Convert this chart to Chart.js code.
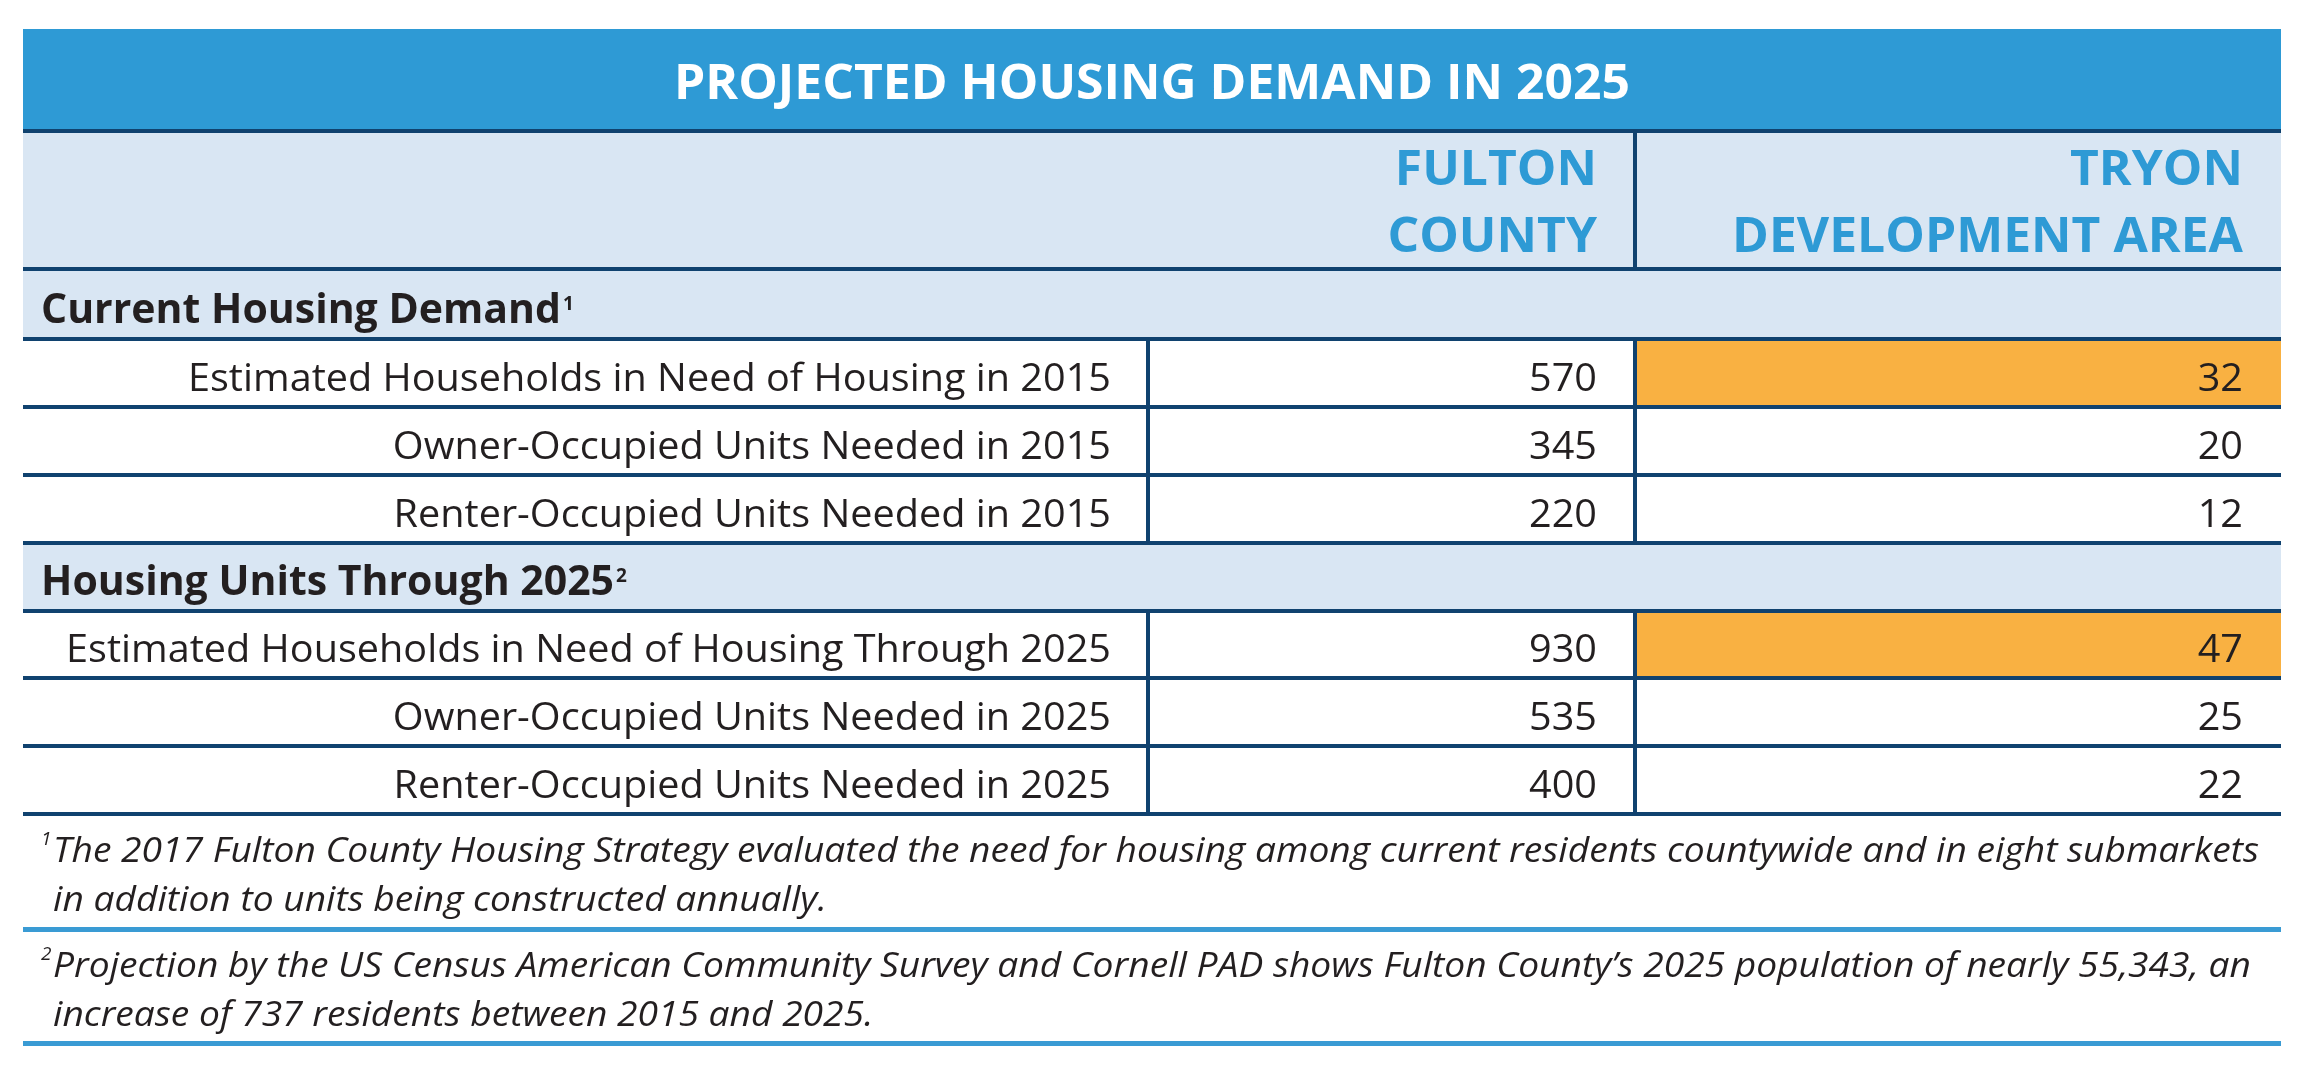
<!DOCTYPE html>
<html><head><meta charset="utf-8">
<script src="https://cdn.jsdelivr.net/npm/chart.js@4.4.1/dist/chart.umd.min.js"></script>
<style>html,body{margin:0;padding:0;background:#fff;overflow:hidden}#wrap{width:2310px;height:1074px;position:relative}canvas{display:block}</style>
</head><body><div id="wrap"><canvas id="c" width="2310" height="1074" style="width:2310px;height:1074px"></canvas></div>
<script>
// ---------- DATA ----------
const titleText = 'PROJECTED HOUSING DEMAND IN 2025';
const columnHeaders = [['FULTON', 'COUNTY'], ['TRYON', 'DEVELOPMENT AREA']];
const sectionTitles = ['Current Housing Demand', 'Housing Units Through 2025'];
const sectionNoteMarks = ['1', '2'];
const rowLabels = [
  'Estimated Households in Need of Housing in 2015',
  'Owner-Occupied Units Needed in 2015',
  'Renter-Occupied Units Needed in 2015',
  'Estimated Households in Need of Housing Through 2025',
  'Owner-Occupied Units Needed in 2025',
  'Renter-Occupied Units Needed in 2025'
];
const rowSection = [0, 0, 0, 1, 1, 1];
const fultonValues = [570, 345, 220, 930, 535, 400];
const tryonValues = [32, 20, 12, 47, 25, 22];
const highlightedRows = [0, 3];
const footnoteMarks = ['1', '2'];
const footnoteLines = [
  ['The 2017 Fulton County Housing Strategy evaluated the need for housing among current residents countywide and in eight submarkets',
   'in addition to units being constructed annually.'],
  ['Projection by the US Census American Community Survey and Cornell PAD shows Fulton County\u2019s 2025 population of nearly 55,343, an',
   'increase of 737 residents between 2015 and 2025.']
];

// ---------- LAYOUT / STYLE ----------
const COLS = [0, 0.4982, 0.7139, 1];          // column edges (fraction of table width)
const H = {title: 1.5, header: 2.04, section: [1.04, 1.0], row: 1, footnote: [1.7, 1.68]}; // band heights in row units
const C = {
  blue: '#2e9ad5', headBg: '#d9e6f3', dark: '#10426f', fnLine: '#3a9bd4',
  orange: '#f9b142', text: '#231f20', white: '#ffffff'
};
const FONT = '"Open Sans", "DejaVu Sans", sans-serif';

// build bands
const bands = [];
bands.push({kind: 'title', h: H.title});
bands.push({kind: 'header', h: H.header});
sectionTitles.forEach((t, s) => {
  bands.push({kind: 'section', idx: s, h: H.section[s]});
  rowLabels.forEach((l, i) => { if (rowSection[i] === s) bands.push({kind: 'row', idx: i, h: H.row}); });
});
footnoteLines.forEach((f, i) => bands.push({kind: 'footnote', idx: i, h: H.footnote[i]}));
let acc = 0;
bands.forEach(b => { b.top = acc; acc += b.h; b.bottom = acc; b.center = (b.top + b.bottom) / 2; });
const TOTAL = acc;
const BOUNDS = [0].concat(bands.map(b => b.bottom));
const boundStyle = BOUNDS.map((v, i) => {
  if (i === 0) return {color: 'rgba(0,0,0,0)', width: 0};
  const b = bands[i - 1];
  if (b.kind === 'footnote') return {color: C.fnLine, width: 5};
  return {color: C.dark, width: 4};
});

// cell bars (value columns), built from the data rows
const rowBands = bands.filter(b => b.kind === 'row');
const cellData = [], cellColors = [];
rowBands.forEach(b => {
  cellData.push({y: b.center, x: [COLS[1], COLS[2]]});
  cellColors.push(C.white);
  cellData.push({y: b.center, x: [COLS[2], COLS[3]]});
  cellColors.push(highlightedRows.includes(b.idx) ? C.orange : C.white);
});

function ratioFor(ctx, font, ref, target) {
  ctx.font = font;
  return target / ctx.measureText(ref).width;
}
function fit(ctx, text, x, y, ratio) {
  const w = ctx.measureText(text).width;
  const align = ctx.textAlign;
  ctx.save();
  ctx.translate(x, y);
  ctx.scale(ratio, 1);
  ctx.textAlign = align;
  ctx.fillText(text, 0, 0);
  ctx.restore();
  return w * ratio;
}

const tablePlugin = {
  id: 'tablePlugin',
  beforeDraw(chart) {
    const {ctx, scales: {x, y}} = chart;
    ctx.save();
    ctx.fillStyle = '#fff';
    ctx.fillRect(0, 0, chart.width, chart.height);
    const L = x.getPixelForValue(0), R = x.getPixelForValue(1);
    bands.forEach(b => {
      let col = null;
      if (b.kind === 'title') col = C.blue;
      else if (b.kind === 'header' || b.kind === 'section') col = C.headBg;
      if (col) {
        const t = y.getPixelForValue(b.top), bt = y.getPixelForValue(b.bottom);
        ctx.fillStyle = col;
        ctx.fillRect(L, t, R - L, bt - t);
      }
    });
    ctx.restore();
  },
  afterDraw(chart) {
    const {ctx, scales: {x, y}} = chart;
    const meta = chart.getDatasetMeta(0);
    ctx.save();
    const L = x.getPixelForValue(0);
    // vertical dividers
    ctx.strokeStyle = C.dark;
    ctx.lineWidth = 4;
    bands.forEach(b => {
      const t = y.getPixelForValue(b.top), bt = y.getPixelForValue(b.bottom);
      const xs = b.kind === 'row' ? [COLS[1], COLS[2]] : (b.kind === 'header' ? [COLS[2]] : []);
      xs.forEach(v => {
        const px = Math.round(x.getPixelForValue(v));
        ctx.beginPath(); ctx.moveTo(px, t); ctx.lineTo(px, bt); ctx.stroke();
      });
    });

    const fBody = '39px ' + FONT;
    const fTitle = 'bold 48px ' + FONT;
    const fHead = 'bold 49px ' + FONT;
    const fSec = 'bold 42px ' + FONT;
    const fFoot = 'italic 35px ' + FONT;
    const rBody = ratioFor(ctx, fBody, rowLabels[0], 923);
    const rTitle = ratioFor(ctx, fTitle, titleText, 956);
    const rHead = ratioFor(ctx, fHead, columnHeaders[1][1], 511);
    const rSec = ratioFor(ctx, fSec, sectionTitles[0], 520);
    const rFoot = ratioFor(ctx, fFoot, footnoteLines[0][0], 2206);

    ctx.textBaseline = 'alphabetic';
    bands.forEach(b => {
      const t = y.getPixelForValue(b.top), bt = y.getPixelForValue(b.bottom);
      if (b.kind === 'title') {
        ctx.font = fTitle; ctx.fillStyle = '#fff'; ctx.textAlign = 'center';
        fit(ctx, titleText, (x.getPixelForValue(0) + x.getPixelForValue(1)) / 2, t + 70, rTitle);
      } else if (b.kind === 'header') {
        ctx.font = fHead; ctx.fillStyle = C.blue; ctx.textAlign = 'right';
        columnHeaders.forEach((lines, ci) => {
          const rx = x.getPixelForValue(COLS[ci + 2]) - 38;
          lines.forEach((ln, li) => fit(ctx, ln, rx, t + 54 + li * 67, rHead));
        });
      } else if (b.kind === 'section') {
        ctx.font = fSec; ctx.fillStyle = C.text; ctx.textAlign = 'left';
        const base = bt - 16;
        const w = fit(ctx, sectionTitles[b.idx], L + 18, base, rSec);
        ctx.font = 'bold 19px ' + FONT;
        ctx.fillText(sectionNoteMarks[b.idx], L + 18 + w + 2, base - 13);
      } else if (b.kind === 'row') {
        ctx.font = fBody; ctx.fillStyle = C.text; ctx.textAlign = 'right';
        fit(ctx, rowLabels[b.idx], x.getPixelForValue(COLS[1]) - 37, bt - 16, rBody);
      } else if (b.kind === 'footnote') {
        ctx.font = 'italic 19px ' + FONT; ctx.fillStyle = C.text; ctx.textAlign = 'left';
        ctx.fillText(footnoteMarks[b.idx], L + 18, t + 31);
        ctx.font = fFoot;
        footnoteLines[b.idx].forEach((ln, li) => fit(ctx, ln, L + 30, t + 48 + li * 49, rFoot));
      }
    });
    // values, positioned from the cell bars
    ctx.font = fBody; ctx.fillStyle = C.text; ctx.textAlign = 'right';
    meta.data.forEach((el, k) => {
      const r = Math.floor(k / 2), col = k % 2;
      const b = rowBands[r];
      const v = col === 0 ? fultonValues[b.idx] : tryonValues[b.idx];
      const right = Math.max(el.x, el.base);
      const bt = y.getPixelForValue(b.bottom);
      fit(ctx, String(v), right - 38, bt - 16, rBody);
    });
    ctx.restore();
  }
};

new Chart(document.getElementById('c'), {
  type: 'bar',
  data: {
    datasets: [{
      label: 'cells',
      data: cellData,
      backgroundColor: cellColors,
      borderWidth: 0,
      barPercentage: 1,
      categoryPercentage: 1,
      inflateAmount: 0
    }]
  },
  options: {
    indexAxis: 'y',
    responsive: false,
    maintainAspectRatio: false,
    devicePixelRatio: 1,
    animation: false,
    events: [],
    layout: {padding: {left: 23, right: 29, top: 29, bottom: 31}},
    plugins: {legend: {display: false}, tooltip: {enabled: false}},
    scales: {
      x: {type: 'linear', min: 0, max: 1, display: false, offset: false},
      y: {
        type: 'linear', reverse: true, min: 0, max: TOTAL, z: 1, offset: false,
        afterBuildTicks: s => { s.ticks = BOUNDS.map(v => ({value: v})); },
        ticks: {display: false},
        border: {display: false},
        grid: {
          offset: false,
          z: 1,
          drawTicks: false,
          color: c => (boundStyle[c.index] || {}).color || 'rgba(0,0,0,0)',
          lineWidth: c => (boundStyle[c.index] || {}).width || 0
        }
      }
    }
  },
  plugins: [tablePlugin]
});
</script></body></html>
